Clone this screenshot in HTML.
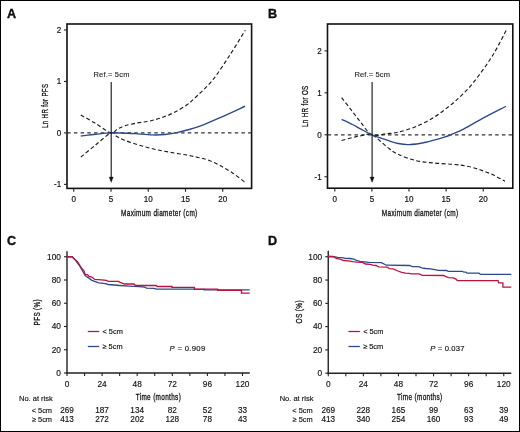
<!DOCTYPE html>
<html><head><meta charset="utf-8"><style>
html,body{margin:0;padding:0;background:#fff;}
body{width:520px;height:432px;overflow:hidden;}
svg{display:block;will-change:transform;}
text{font-family:"Liberation Sans", sans-serif;}
</style></head><body>
<svg width="520" height="432" viewBox="0 0 520 432">
<rect x="0" y="0" width="520" height="432" fill="#fff"/>
<rect x="0.5" y="0.5" width="519" height="431" fill="none" stroke="#000" stroke-width="1"/>
<g fill="#111" stroke="#111" stroke-width="0.15">
<text x="7.00" y="18.00" font-size="12.60" text-anchor="start" font-weight="bold"  stroke="#000" stroke-width="0.35">A</text>
<rect x="67.00" y="24.00" width="184.60" height="164.40" fill="none" stroke="#111" stroke-width="1.6"/>
<line x1="64.00" y1="29.96" x2="67.00" y2="29.96" stroke="#222" stroke-width="1.10"/>
<text transform="translate(61.20,32.96) scale(0.920,1)" x="0" y="0" font-size="8.80" text-anchor="end" stroke-width="0.2">2</text>
<line x1="64.00" y1="81.43" x2="67.00" y2="81.43" stroke="#222" stroke-width="1.10"/>
<text transform="translate(61.20,84.43) scale(0.920,1)" x="0" y="0" font-size="8.80" text-anchor="end" stroke-width="0.2">1</text>
<line x1="64.00" y1="132.90" x2="67.00" y2="132.90" stroke="#222" stroke-width="1.10"/>
<text transform="translate(61.20,135.90) scale(0.920,1)" x="0" y="0" font-size="8.80" text-anchor="end" stroke-width="0.2">0</text>
<line x1="64.00" y1="184.37" x2="67.00" y2="184.37" stroke="#222" stroke-width="1.10"/>
<text transform="translate(61.20,187.37) scale(0.920,1)" x="0" y="0" font-size="8.80" text-anchor="end" stroke-width="0.2">-1</text>
<line x1="73.75" y1="188.40" x2="73.75" y2="191.80" stroke="#222" stroke-width="1.10"/>
<text transform="translate(73.75,202.00) scale(0.920,1)" x="0" y="0" font-size="8.80" text-anchor="middle" stroke-width="0.2">0</text>
<line x1="111.00" y1="188.40" x2="111.00" y2="191.80" stroke="#222" stroke-width="1.10"/>
<text transform="translate(111.00,202.00) scale(0.920,1)" x="0" y="0" font-size="8.80" text-anchor="middle" stroke-width="0.2">5</text>
<line x1="148.25" y1="188.40" x2="148.25" y2="191.80" stroke="#222" stroke-width="1.10"/>
<text transform="translate(148.25,202.00) scale(0.920,1)" x="0" y="0" font-size="8.80" text-anchor="middle" stroke-width="0.2">10</text>
<line x1="185.50" y1="188.40" x2="185.50" y2="191.80" stroke="#222" stroke-width="1.10"/>
<text transform="translate(185.50,202.00) scale(0.920,1)" x="0" y="0" font-size="8.80" text-anchor="middle" stroke-width="0.2">15</text>
<line x1="222.75" y1="188.40" x2="222.75" y2="191.80" stroke="#222" stroke-width="1.10"/>
<text transform="translate(222.75,202.00) scale(0.920,1)" x="0" y="0" font-size="8.80" text-anchor="middle" stroke-width="0.2">20</text>
<text transform="translate(159.30,215.80) scale(0.6661,1)" x="0" y="0" font-size="9.70" text-anchor="middle" stroke-width="0.32" letter-spacing="0.50">Maximum diameter (cm)</text>
<text transform="translate(47.60,105.80) rotate(-90) scale(0.6431,1)" x="0" y="0" font-size="9.60" text-anchor="middle" stroke-width="0.32" letter-spacing="0.50">Ln HR for PFS</text>
<line x1="67.20" y1="132.90" x2="251.60" y2="132.90" stroke="#333" stroke-width="1.35" stroke-dasharray="3.5,3.2"/>
<path d="M80.80,115.00 C83.30,116.43 90.77,120.62 95.80,123.60 C100.83,126.58 107.47,131.93 111.00,132.90 C114.53,133.87 114.75,130.57 117.00,129.40 C119.25,128.23 121.17,126.97 124.50,125.90 C127.83,124.83 132.83,123.80 137.00,123.00 C141.17,122.20 145.33,122.02 149.50,121.10 C153.67,120.18 157.83,118.97 162.00,117.50 C166.17,116.03 170.33,114.42 174.50,112.30 C178.67,110.18 183.58,107.22 187.00,104.80 C190.42,102.38 190.78,101.85 195.00,97.80 C199.22,93.75 206.52,87.58 212.30,80.50 C218.08,73.42 224.20,63.68 229.70,55.30 C235.20,46.92 242.70,34.38 245.30,30.20" stroke="#1a1a1a" stroke-width="1.15" fill="none" stroke-dasharray="3.9,2.5" />
<path d="M80.80,157.10 C83.30,155.05 90.77,148.83 95.80,144.80 C100.83,140.77 107.47,134.27 111.00,132.90 C114.53,131.53 114.75,135.38 117.00,136.60 C119.25,137.82 121.17,138.88 124.50,140.20 C127.83,141.52 132.83,143.20 137.00,144.50 C141.17,145.80 145.33,146.95 149.50,148.00 C153.67,149.05 157.83,149.97 162.00,150.80 C166.17,151.63 170.33,152.28 174.50,153.00 C178.67,153.72 183.25,154.40 187.00,155.10 C190.75,155.80 193.58,156.42 197.00,157.20 C200.42,157.98 203.67,158.40 207.50,159.80 C211.33,161.20 215.83,163.42 220.00,165.60 C224.17,167.78 228.33,170.12 232.50,172.90 C236.67,175.68 242.92,180.73 245.00,182.30" stroke="#1a1a1a" stroke-width="1.15" fill="none" stroke-dasharray="3.9,2.5" />
<path d="M80.80,136.00 C83.30,135.72 90.77,134.82 95.80,134.30 C100.83,133.78 106.13,133.08 111.00,132.90 C115.87,132.72 121.00,133.08 125.00,133.20 C129.00,133.32 130.43,133.32 135.00,133.60 C139.57,133.88 147.40,134.75 152.40,134.90 C157.40,135.05 160.95,134.88 165.00,134.50 C169.05,134.12 173.00,133.35 176.70,132.60 C180.40,131.85 183.32,131.07 187.20,130.00 C191.08,128.93 194.53,128.25 200.00,126.20 C205.47,124.15 212.50,121.03 220.00,117.70 C227.50,114.38 240.83,108.16 245.00,106.25" stroke="#2c4a88" stroke-width="1.40" fill="none" />
<line x1="111.20" y1="82.00" x2="111.20" y2="177.00" stroke="#111" stroke-width="1.10"/>
<path d="M109.10,177.0 L113.30,177.0 L111.20,182.4 Z" fill="#111" stroke-width="0.3"/>
<text x="93.40" y="76.70" font-size="7.50" text-anchor="start" font-weight="normal"  textLength="36.00" lengthAdjust="spacing" stroke-width="0.1" fill="#1a1a1a">Ref.= 5cm</text>
<text x="268.00" y="18.00" font-size="12.60" text-anchor="start" font-weight="bold"  stroke="#000" stroke-width="0.35">B</text>
<rect x="327.50" y="24.00" width="185.30" height="164.20" fill="none" stroke="#111" stroke-width="1.6"/>
<line x1="324.50" y1="50.90" x2="327.50" y2="50.90" stroke="#222" stroke-width="1.10"/>
<text transform="translate(321.70,53.90) scale(0.920,1)" x="0" y="0" font-size="8.80" text-anchor="end" stroke-width="0.2">2</text>
<line x1="324.50" y1="92.85" x2="327.50" y2="92.85" stroke="#222" stroke-width="1.10"/>
<text transform="translate(321.70,95.85) scale(0.920,1)" x="0" y="0" font-size="8.80" text-anchor="end" stroke-width="0.2">1</text>
<line x1="324.50" y1="134.80" x2="327.50" y2="134.80" stroke="#222" stroke-width="1.10"/>
<text transform="translate(321.70,137.80) scale(0.920,1)" x="0" y="0" font-size="8.80" text-anchor="end" stroke-width="0.2">0</text>
<line x1="324.50" y1="176.75" x2="327.50" y2="176.75" stroke="#222" stroke-width="1.10"/>
<text transform="translate(321.70,179.75) scale(0.920,1)" x="0" y="0" font-size="8.80" text-anchor="end" stroke-width="0.2">-1</text>
<line x1="334.80" y1="188.20" x2="334.80" y2="191.60" stroke="#222" stroke-width="1.10"/>
<text transform="translate(334.80,202.00) scale(0.920,1)" x="0" y="0" font-size="8.80" text-anchor="middle" stroke-width="0.2">0</text>
<line x1="371.90" y1="188.20" x2="371.90" y2="191.60" stroke="#222" stroke-width="1.10"/>
<text transform="translate(371.90,202.00) scale(0.920,1)" x="0" y="0" font-size="8.80" text-anchor="middle" stroke-width="0.2">5</text>
<line x1="409.00" y1="188.20" x2="409.00" y2="191.60" stroke="#222" stroke-width="1.10"/>
<text transform="translate(409.00,202.00) scale(0.920,1)" x="0" y="0" font-size="8.80" text-anchor="middle" stroke-width="0.2">10</text>
<line x1="446.10" y1="188.20" x2="446.10" y2="191.60" stroke="#222" stroke-width="1.10"/>
<text transform="translate(446.10,202.00) scale(0.920,1)" x="0" y="0" font-size="8.80" text-anchor="middle" stroke-width="0.2">15</text>
<line x1="483.20" y1="188.20" x2="483.20" y2="191.60" stroke="#222" stroke-width="1.10"/>
<text transform="translate(483.20,202.00) scale(0.920,1)" x="0" y="0" font-size="8.80" text-anchor="middle" stroke-width="0.2">20</text>
<text transform="translate(420.15,215.80) scale(0.6661,1)" x="0" y="0" font-size="9.70" text-anchor="middle" stroke-width="0.32" letter-spacing="0.50">Maximum diameter (cm)</text>
<text transform="translate(307.60,106.20) rotate(-90) scale(0.6559,1)" x="0" y="0" font-size="9.60" text-anchor="middle" stroke-width="0.32" letter-spacing="0.50">Ln HR for OS</text>
<line x1="327.70" y1="134.80" x2="512.80" y2="134.80" stroke="#333" stroke-width="1.35" stroke-dasharray="3.5,3.2"/>
<path d="M341.60,97.60 C343.40,99.92 349.15,107.30 352.40,111.50 C355.65,115.70 357.83,118.92 361.10,122.80 C364.37,126.68 367.65,133.00 372.00,134.80 C376.35,136.60 382.87,134.03 387.20,133.60 C391.53,133.17 393.12,133.40 398.00,132.20 C402.88,131.00 410.33,129.00 416.50,126.40 C422.67,123.80 429.43,120.07 435.00,116.60 C440.57,113.13 445.57,109.05 449.90,105.60 C454.23,102.15 457.07,99.77 461.00,95.90 C464.93,92.03 468.33,88.97 473.50,82.40 C478.67,75.83 486.43,65.38 492.00,56.50 C497.57,47.62 504.42,33.67 506.90,29.10" stroke="#1a1a1a" stroke-width="1.15" fill="none" stroke-dasharray="3.9,2.5" />
<path d="M341.60,140.50 C343.40,140.02 349.15,138.38 352.40,137.60 C355.65,136.82 357.83,136.27 361.10,135.80 C364.37,135.33 367.65,132.92 372.00,134.80 C376.35,136.68 382.87,143.85 387.20,147.10 C391.53,150.35 393.12,152.03 398.00,154.30 C402.88,156.57 410.33,159.23 416.50,160.70 C422.67,162.17 428.82,162.48 435.00,163.10 C441.18,163.72 448.18,163.88 453.60,164.40 C459.02,164.93 463.10,165.35 467.50,166.25 C471.90,167.15 475.83,168.41 480.00,169.80 C484.17,171.19 488.33,172.69 492.50,174.60 C496.67,176.51 502.92,180.14 505.00,181.25" stroke="#1a1a1a" stroke-width="1.15" fill="none" stroke-dasharray="3.9,2.5" />
<path d="M341.60,119.30 C343.40,120.17 349.15,122.85 352.40,124.50 C355.65,126.15 357.83,127.48 361.10,129.20 C364.37,130.92 367.65,132.97 372.00,134.80 C376.35,136.63 382.87,138.75 387.20,140.20 C391.53,141.65 394.35,142.77 398.00,143.50 C401.65,144.23 404.47,144.82 409.10,144.60 C413.73,144.38 419.93,143.43 425.80,142.20 C431.67,140.97 439.98,138.52 444.30,137.20 C448.62,135.88 448.58,135.62 451.70,134.30 C454.82,132.98 458.28,131.72 463.00,129.30 C467.72,126.88 472.83,123.64 480.00,119.80 C487.17,115.96 501.67,108.51 506.00,106.25" stroke="#2c4a88" stroke-width="1.40" fill="none" />
<line x1="372.10" y1="82.00" x2="372.10" y2="177.00" stroke="#111" stroke-width="1.10"/>
<path d="M370.00,177.0 L374.20,177.0 L372.10,182.4 Z" fill="#111" stroke-width="0.3"/>
<text x="354.50" y="76.70" font-size="7.50" text-anchor="start" font-weight="normal"  textLength="35.40" lengthAdjust="spacing" stroke-width="0.1" fill="#1a1a1a">Ref.= 5cm</text>
<text x="7.00" y="245.00" font-size="12.60" text-anchor="start" font-weight="bold"  stroke="#000" stroke-width="0.35">C</text>
<line x1="67.00" y1="251.20" x2="67.00" y2="373.60" stroke="#222" stroke-width="1.40"/>
<line x1="66.40" y1="373.00" x2="249.80" y2="373.00" stroke="#222" stroke-width="1.40"/>
<line x1="64.00" y1="373.00" x2="67.00" y2="373.00" stroke="#222" stroke-width="1.10"/>
<text x="60.90" y="375.80" font-size="8.30" text-anchor="end" font-weight="normal"  >0</text>
<line x1="64.00" y1="349.75" x2="67.00" y2="349.75" stroke="#222" stroke-width="1.10"/>
<text x="60.90" y="352.55" font-size="8.30" text-anchor="end" font-weight="normal"  >20</text>
<line x1="64.00" y1="326.50" x2="67.00" y2="326.50" stroke="#222" stroke-width="1.10"/>
<text x="60.90" y="329.30" font-size="8.30" text-anchor="end" font-weight="normal"  >40</text>
<line x1="64.00" y1="303.25" x2="67.00" y2="303.25" stroke="#222" stroke-width="1.10"/>
<text x="60.90" y="306.05" font-size="8.30" text-anchor="end" font-weight="normal"  >60</text>
<line x1="64.00" y1="280.00" x2="67.00" y2="280.00" stroke="#222" stroke-width="1.10"/>
<text x="60.90" y="282.80" font-size="8.30" text-anchor="end" font-weight="normal"  >80</text>
<line x1="64.00" y1="256.75" x2="67.00" y2="256.75" stroke="#222" stroke-width="1.10"/>
<text x="60.90" y="259.55" font-size="8.30" text-anchor="end" font-weight="normal"  >100</text>
<line x1="67.00" y1="373.00" x2="67.00" y2="376.00" stroke="#222" stroke-width="1.10"/>
<text x="67.00" y="386.80" font-size="8.30" text-anchor="middle" font-weight="normal"  >0</text>
<line x1="84.55" y1="373.00" x2="84.55" y2="376.00" stroke="#222" stroke-width="1.10"/>
<line x1="102.10" y1="373.00" x2="102.10" y2="376.00" stroke="#222" stroke-width="1.10"/>
<text x="102.10" y="386.80" font-size="8.30" text-anchor="middle" font-weight="normal"  >24</text>
<line x1="119.65" y1="373.00" x2="119.65" y2="376.00" stroke="#222" stroke-width="1.10"/>
<line x1="137.20" y1="373.00" x2="137.20" y2="376.00" stroke="#222" stroke-width="1.10"/>
<text x="137.20" y="386.80" font-size="8.30" text-anchor="middle" font-weight="normal"  >48</text>
<line x1="154.75" y1="373.00" x2="154.75" y2="376.00" stroke="#222" stroke-width="1.10"/>
<line x1="172.30" y1="373.00" x2="172.30" y2="376.00" stroke="#222" stroke-width="1.10"/>
<text x="172.30" y="386.80" font-size="8.30" text-anchor="middle" font-weight="normal"  >72</text>
<line x1="189.85" y1="373.00" x2="189.85" y2="376.00" stroke="#222" stroke-width="1.10"/>
<line x1="207.40" y1="373.00" x2="207.40" y2="376.00" stroke="#222" stroke-width="1.10"/>
<text x="207.40" y="386.80" font-size="8.30" text-anchor="middle" font-weight="normal"  >96</text>
<line x1="224.95" y1="373.00" x2="224.95" y2="376.00" stroke="#222" stroke-width="1.10"/>
<line x1="242.50" y1="373.00" x2="242.50" y2="376.00" stroke="#222" stroke-width="1.10"/>
<text x="242.50" y="386.80" font-size="8.30" text-anchor="middle" font-weight="normal"  >120</text>
<text transform="translate(158.40,400.00) scale(0.6695,1)" x="0" y="0" font-size="9.60" text-anchor="middle" stroke-width="0.32" letter-spacing="0.50">Time (months)</text>
<text transform="translate(40.40,312.20) rotate(-90) scale(0.6672,1)" x="0" y="0" font-size="9.60" text-anchor="middle" stroke-width="0.32" letter-spacing="0.50">PFS (%)</text>
<line x1="87.80" y1="331.50" x2="99.20" y2="331.50" stroke="#bb1240" stroke-width="1.30"/>
<line x1="87.80" y1="346.50" x2="99.20" y2="346.50" stroke="#2c4a88" stroke-width="1.30"/>
<text x="102.50" y="333.90" font-size="7.40" text-anchor="start" font-weight="normal"  >&lt; 5cm</text>
<text x="102.50" y="349.00" font-size="7.40" text-anchor="start" font-weight="normal"  >&#8805; 5cm</text>
<text x="169.60" y="351.4" font-size="7.7" textLength="35.60" lengthAdjust="spacing" stroke-width="0.15"><tspan font-style="italic">P</tspan> = 0.909</text>
<path d="M67.00,256.75 L72.20,256.75 L74.60,259.20 L79.40,265.50 L85.20,275.60 L91.90,280.40 L98.70,282.80 L105.40,283.70 L108.30,284.50 L119.60,285.50 L129.20,286.20 L138.80,286.70 L144.60,287.20 L146.50,288.20 L154.20,288.30 L156.20,289.10 L194.10,289.10 L194.10,289.30 L204.20,289.30 L204.20,289.95 L249.70,289.95" stroke="#2c4a88" stroke-width="1.30" fill="none" stroke-linejoin="miter"/>
<path d="M67.00,256.75 L72.20,256.75 L74.60,259.20 L77.50,261.60 L80.40,266.40 L84.20,271.20 L85.20,274.60 L87.60,274.60 L89.00,276.50 L91.90,277.20 L94.80,279.40 L101.50,279.90 L106.30,280.40 L108.30,281.30 L118.70,281.40 L119.60,282.10 L121.50,282.80 L124.40,284.00 L134.00,284.00 L135.50,285.50 L156.20,285.50 L157.20,286.50 L172.00,286.50 L172.00,287.40 L194.40,287.40 L194.40,289.20 L217.50,289.20 L217.50,290.40 L241.50,290.40 L241.50,293.20 L249.70,293.20" stroke="#bb1240" stroke-width="1.30" fill="none" stroke-linejoin="miter"/>
<text x="19.00" y="401.00" font-size="8.00" text-anchor="start" font-weight="normal"  textLength="33.8" lengthAdjust="spacingAndGlyphs">No. at risk</text>
<text x="52.00" y="413.10" font-size="7.40" text-anchor="end" font-weight="normal"  >&lt; 5cm</text>
<text x="52.00" y="422.10" font-size="7.40" text-anchor="end" font-weight="normal"  >&#8805; 5cm</text>
<text x="67.00" y="413.10" font-size="8.20" text-anchor="middle" font-weight="normal"  >269</text>
<text x="67.00" y="422.20" font-size="8.20" text-anchor="middle" font-weight="normal"  >413</text>
<text x="102.10" y="413.10" font-size="8.20" text-anchor="middle" font-weight="normal"  >187</text>
<text x="102.10" y="422.20" font-size="8.20" text-anchor="middle" font-weight="normal"  >272</text>
<text x="137.20" y="413.10" font-size="8.20" text-anchor="middle" font-weight="normal"  >134</text>
<text x="137.20" y="422.20" font-size="8.20" text-anchor="middle" font-weight="normal"  >202</text>
<text x="172.30" y="413.10" font-size="8.20" text-anchor="middle" font-weight="normal"  >82</text>
<text x="172.30" y="422.20" font-size="8.20" text-anchor="middle" font-weight="normal"  >128</text>
<text x="207.40" y="413.10" font-size="8.20" text-anchor="middle" font-weight="normal"  >52</text>
<text x="207.40" y="422.20" font-size="8.20" text-anchor="middle" font-weight="normal"  >78</text>
<text x="242.50" y="413.10" font-size="8.20" text-anchor="middle" font-weight="normal"  >33</text>
<text x="242.50" y="422.20" font-size="8.20" text-anchor="middle" font-weight="normal"  >43</text>
<text x="268.00" y="245.00" font-size="12.60" text-anchor="start" font-weight="bold"  stroke="#000" stroke-width="0.35">D</text>
<line x1="328.25" y1="250.80" x2="328.25" y2="373.80" stroke="#222" stroke-width="1.40"/>
<line x1="327.65" y1="373.20" x2="511.30" y2="373.20" stroke="#222" stroke-width="1.40"/>
<line x1="325.25" y1="373.20" x2="328.25" y2="373.20" stroke="#222" stroke-width="1.10"/>
<text x="322.15" y="376.00" font-size="8.30" text-anchor="end" font-weight="normal"  >0</text>
<line x1="325.25" y1="349.91" x2="328.25" y2="349.91" stroke="#222" stroke-width="1.10"/>
<text x="322.15" y="352.71" font-size="8.30" text-anchor="end" font-weight="normal"  >20</text>
<line x1="325.25" y1="326.62" x2="328.25" y2="326.62" stroke="#222" stroke-width="1.10"/>
<text x="322.15" y="329.42" font-size="8.30" text-anchor="end" font-weight="normal"  >40</text>
<line x1="325.25" y1="303.33" x2="328.25" y2="303.33" stroke="#222" stroke-width="1.10"/>
<text x="322.15" y="306.13" font-size="8.30" text-anchor="end" font-weight="normal"  >60</text>
<line x1="325.25" y1="280.04" x2="328.25" y2="280.04" stroke="#222" stroke-width="1.10"/>
<text x="322.15" y="282.84" font-size="8.30" text-anchor="end" font-weight="normal"  >80</text>
<line x1="325.25" y1="256.75" x2="328.25" y2="256.75" stroke="#222" stroke-width="1.10"/>
<text x="322.15" y="259.55" font-size="8.30" text-anchor="end" font-weight="normal"  >100</text>
<line x1="328.25" y1="373.20" x2="328.25" y2="376.20" stroke="#222" stroke-width="1.10"/>
<text x="328.25" y="386.80" font-size="8.30" text-anchor="middle" font-weight="normal"  >0</text>
<line x1="345.80" y1="373.20" x2="345.80" y2="376.20" stroke="#222" stroke-width="1.10"/>
<line x1="363.35" y1="373.20" x2="363.35" y2="376.20" stroke="#222" stroke-width="1.10"/>
<text x="363.35" y="386.80" font-size="8.30" text-anchor="middle" font-weight="normal"  >24</text>
<line x1="380.90" y1="373.20" x2="380.90" y2="376.20" stroke="#222" stroke-width="1.10"/>
<line x1="398.45" y1="373.20" x2="398.45" y2="376.20" stroke="#222" stroke-width="1.10"/>
<text x="398.45" y="386.80" font-size="8.30" text-anchor="middle" font-weight="normal"  >48</text>
<line x1="416.00" y1="373.20" x2="416.00" y2="376.20" stroke="#222" stroke-width="1.10"/>
<line x1="433.55" y1="373.20" x2="433.55" y2="376.20" stroke="#222" stroke-width="1.10"/>
<text x="433.55" y="386.80" font-size="8.30" text-anchor="middle" font-weight="normal"  >72</text>
<line x1="451.10" y1="373.20" x2="451.10" y2="376.20" stroke="#222" stroke-width="1.10"/>
<line x1="468.65" y1="373.20" x2="468.65" y2="376.20" stroke="#222" stroke-width="1.10"/>
<text x="468.65" y="386.80" font-size="8.30" text-anchor="middle" font-weight="normal"  >96</text>
<line x1="486.20" y1="373.20" x2="486.20" y2="376.20" stroke="#222" stroke-width="1.10"/>
<line x1="503.75" y1="373.20" x2="503.75" y2="376.20" stroke="#222" stroke-width="1.10"/>
<text x="503.75" y="386.80" font-size="8.30" text-anchor="middle" font-weight="normal"  >120</text>
<text transform="translate(419.77,400.00) scale(0.6695,1)" x="0" y="0" font-size="9.60" text-anchor="middle" stroke-width="0.32" letter-spacing="0.50">Time (months)</text>
<text transform="translate(301.60,311.80) rotate(-90) scale(0.6830,1)" x="0" y="0" font-size="9.60" text-anchor="middle" stroke-width="0.32" letter-spacing="0.50">OS (%)</text>
<line x1="348.45" y1="331.50" x2="359.85" y2="331.50" stroke="#bb1240" stroke-width="1.30"/>
<line x1="348.45" y1="346.50" x2="359.85" y2="346.50" stroke="#2c4a88" stroke-width="1.30"/>
<text x="363.15" y="333.90" font-size="7.40" text-anchor="start" font-weight="normal"  >&lt; 5cm</text>
<text x="363.15" y="349.00" font-size="7.40" text-anchor="start" font-weight="normal"  >&#8805; 5cm</text>
<text x="430.25" y="351.4" font-size="7.7" textLength="34.20" lengthAdjust="spacing" stroke-width="0.15"><tspan font-style="italic">P</tspan> = 0.037</text>
<path d="M328.00,256.50 L335.60,256.80 L337.50,257.30 L342.30,257.60 L345.20,258.30 L350.00,258.50 L353.90,259.20 L356.80,260.50 L359.70,261.30 L364.50,261.80 L369.30,262.40 L381.50,262.60 L386.30,265.20 L409.40,265.50 L412.30,266.60 L418.80,266.60 L421.70,267.80 L425.60,268.50 L430.40,268.90 L436.20,269.90 L438.10,270.40 L446.70,270.50 L448.20,271.30 L462.60,271.30 L463.20,271.90 L465.80,272.10 L466.90,273.20 L479.00,273.20 L480.60,274.40 L511.30,274.40" stroke="#2c4a88" stroke-width="1.30" fill="none" stroke-linejoin="miter"/>
<path d="M328.00,256.50 L333.20,256.50 L336.60,258.70 L340.40,259.20 L343.30,260.50 L348.10,260.80 L352.90,261.60 L356.80,262.10 L362.50,262.40 L365.40,264.00 L370.20,264.30 L372.90,265.20 L375.80,265.50 L378.70,266.80 L387.30,267.10 L389.20,268.60 L393.10,268.80 L397.90,271.00 L401.70,272.40 L405.60,273.10 L409.40,273.40 L411.30,273.80 L419.30,273.80 L422.20,275.30 L443.80,275.50 L445.80,276.60 L448.70,277.60 L453.50,277.90 L456.30,279.30 L457.30,280.60 L498.10,280.60 L498.60,282.80 L502.90,282.80 L502.90,287.10 L511.30,287.10" stroke="#bb1240" stroke-width="1.30" fill="none" stroke-linejoin="miter"/>
<text x="279.65" y="401.00" font-size="8.00" text-anchor="start" font-weight="normal"  textLength="33.8" lengthAdjust="spacingAndGlyphs">No. at risk</text>
<text x="312.65" y="413.10" font-size="7.40" text-anchor="end" font-weight="normal"  >&lt; 5cm</text>
<text x="312.65" y="422.10" font-size="7.40" text-anchor="end" font-weight="normal"  >&#8805; 5cm</text>
<text x="328.25" y="413.10" font-size="8.20" text-anchor="middle" font-weight="normal"  >269</text>
<text x="328.25" y="422.20" font-size="8.20" text-anchor="middle" font-weight="normal"  >413</text>
<text x="363.35" y="413.10" font-size="8.20" text-anchor="middle" font-weight="normal"  >228</text>
<text x="363.35" y="422.20" font-size="8.20" text-anchor="middle" font-weight="normal"  >340</text>
<text x="398.45" y="413.10" font-size="8.20" text-anchor="middle" font-weight="normal"  >165</text>
<text x="398.45" y="422.20" font-size="8.20" text-anchor="middle" font-weight="normal"  >254</text>
<text x="433.55" y="413.10" font-size="8.20" text-anchor="middle" font-weight="normal"  >99</text>
<text x="433.55" y="422.20" font-size="8.20" text-anchor="middle" font-weight="normal"  >160</text>
<text x="468.65" y="413.10" font-size="8.20" text-anchor="middle" font-weight="normal"  >63</text>
<text x="468.65" y="422.20" font-size="8.20" text-anchor="middle" font-weight="normal"  >93</text>
<text x="503.75" y="413.10" font-size="8.20" text-anchor="middle" font-weight="normal"  >39</text>
<text x="503.75" y="422.20" font-size="8.20" text-anchor="middle" font-weight="normal"  >49</text>
</g>
</svg>
</body></html>
